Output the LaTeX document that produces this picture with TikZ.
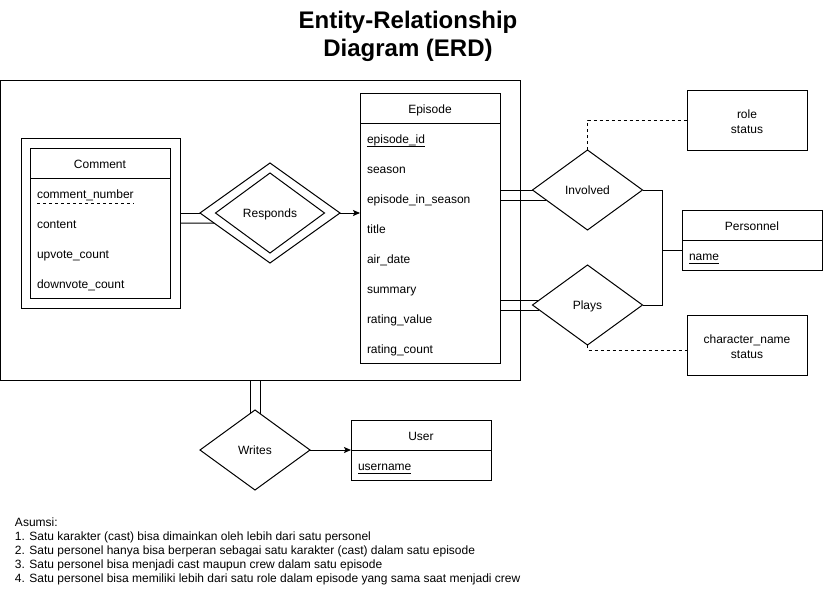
\documentclass[tikz,border=0pt]{standalone}
\usepackage{fontspec}
\setmainfont{Liberation Sans}
\usetikzlibrary{shapes.geometric,arrows.meta,calc}
\begin{document}
\begin{tikzpicture}[x=1pt,y=-1pt, line width=1pt,
  every node/.style={inner sep=0pt, outer sep=0pt, font=\fontsize{12}{14}\selectfont},
  box/.style={draw, rectangle, anchor=north west},
  rel/.style={draw, diamond, minimum width=110pt, minimum height=80pt, text depth=0pt, text height=8.6pt},
  attr/.style={anchor=base west},
  hdr/.style={anchor=base},
  note/.style={draw, rectangle, minimum width=120pt, minimum height=60pt, align=center, font=\fontsize{12}{15}\selectfont},
  notetext/.style={align=center, font=\fontsize{12}{15}\selectfont},
  dsh/.style={dash pattern=on 3pt off 3pt, line width=0.8pt},
  uline/.style={line width=0.8pt},
  arr/.style={-{Stealth[length=7pt,width=6pt,inset=1.5pt]}}
]
\useasboundingbox (0,0) rectangle (823,595);

% title
\node[font=\bfseries\fontsize{24}{28}\selectfont, align=center] (title) at (408,36.5) {Entity-Relationship\\Diagram (ERD)};

% aggregation
\node[box, minimum width=519.5pt, minimum height=300pt] (agg) at (0.5,80) {};

% Comment (weak entity)
\node[box, minimum width=159pt, minimum height=170pt] (cout) at (21,138) {};
\node[box, minimum width=140pt, minimum height=150pt] (cin) at (30,148) {};
\draw ($(cin.north west)+(0,30)$) -- ($(cin.north east)+(0,30)$);
\node[hdr] (chd) at (100,168) {Comment};
\node[attr] (cn) at (37,198) {comment\_number};
\node[attr] (cc) at (37,228) {content};
\node[attr] (cu) at (37,258) {upvote\_count};
\node[attr] (cd) at (37,288) {downvote\_count};
\draw[dsh] ($(cn.base west)+(0,5)$) -- ($(cn.base east)+(0,5)$);

% Responds
\node[rel, minimum width=140pt, minimum height=100pt] (resp) at (270,213) {};
\node[rel, minimum width=109pt, minimum height=80pt] (respin) at (270,213) {Responds};

% Episode
\node[box, minimum width=140pt, minimum height=270pt] (ep) at (360,93) {};
\draw ($(ep.north west)+(0,30)$) -- ($(ep.north east)+(0,30)$);
\node[hdr] (ehd) at (430,113) {Episode};
\node[attr] (e1) at (367,143) {episode\_id};
\node[attr] (e2) at (367,173) {season};
\node[attr] (e3) at (367,203) {episode\_in\_season};
\node[attr] (e4) at (367,233) {title};
\node[attr] (e5) at (367,263) {air\_date};
\node[attr] (e6) at (367,293) {summary};
\node[attr] (e7) at (367,323) {rating\_value};
\node[attr] (e8) at (367,353) {rating\_count};
\draw[uline] ($(e1.base west)+(0,3)$) -- ($(e1.base east)+(0,3)$);

% Involved / Plays
\node[rel] (inv) at (587.5,190) {Involved};
\node[rel] (plays) at (587.5,305) {Plays};

% Personnel
\node[box, minimum width=140pt, minimum height=60pt] (pers) at (682,210) {};
\draw ($(pers.north west)+(0,30)$) -- ($(pers.north east)+(0,30)$);
\node[hdr] (phd) at (752,230) {Personnel};
\node[attr] (pn) at (689,260) {name};
\draw[uline] ($(pn.base west)+(0,3)$) -- ($(pn.base east)+(0,3)$);

% attribute notes
\node[note] (rolebox) at (747,120) {};
\node[notetext] (roletxt) at (747,122) {role\\status};
\node[note] (charb) at (747,345) {};
\node[notetext] (chartxt) at (747,347) {character\_name\\status};

% Writes / User
\node[rel] (wr) at (255,450) {Writes};
\node[box, minimum width=140pt, minimum height=60pt] (usr) at (351,420) {};
\draw ($(usr.north west)+(0,30)$) -- ($(usr.north east)+(0,30)$);
\node[hdr] (uhd) at (421,440) {User};
\node[attr] (un) at (358,470) {username};
\draw[uline] ($(un.base west)+(0,3)$) -- ($(un.base east)+(0,3)$);

% connectors: Comment - Responds - Episode
\coordinate (reslo) at ($(resp.west)!0.2!(resp.south)$);
\draw (cout.east |- resp.west) -- (resp.west);
\draw (cout.east) -- (reslo);
\draw[arr] (resp.east) -- (ep.west |- resp.east);

% Episode - Involved / Plays
\coordinate (invlo) at ($(inv.west)!0.25!(inv.south)$);
\draw (ep.east |- inv.west) -- (inv.west);
\draw (ep.east |- invlo) -- (invlo);
\coordinate (plup) at ($(plays.west)!0.125!(plays.north)$);
\coordinate (pllo) at ($(plays.west)!0.125!(plays.south)$);
\draw (ep.east |- plup) -- (plup);
\draw (ep.east |- pllo) -- (pllo);

% Involved / Plays - Personnel
\coordinate (junc) at (662,250);
\draw (inv.east) -| (junc |- plays.east) -- (plays.east);
\draw (junc) -- (pers.west |- junc);

% dashed attribute links
\draw[dsh] (inv.north) |- (rolebox.west);
\coordinate (chl) at ($(charb.west)+(0,5)$);
\draw[dsh] (plays.south) |- (chl);

% aggregation - Writes - User
\coordinate (wl) at ($(wr.north)!0.0909!(wr.west)$);
\coordinate (wrr) at ($(wr.north)!0.0909!(wr.east)$);
\draw (wl |- agg.south) -- (wl);
\draw (wrr |- agg.south) -- (wrr);
\draw[arr] (wr.east) -- (usr.west |- wr.east);

% notes
\node[anchor=north west, align=left, font=\fontsize{12}{14}\selectfont] (notes) at (15,518) {Asumsi:\\
1. Satu karakter (cast) bisa dimainkan oleh lebih dari satu personel\\
2. Satu personel hanya bisa berperan sebagai satu karakter (cast) dalam satu episode\\
3. Satu personel bisa menjadi cast maupun crew dalam satu episode\\
4. Satu personel bisa memiliki lebih dari satu role dalam episode yang sama saat menjadi crew};
\end{tikzpicture}
\end{document}
